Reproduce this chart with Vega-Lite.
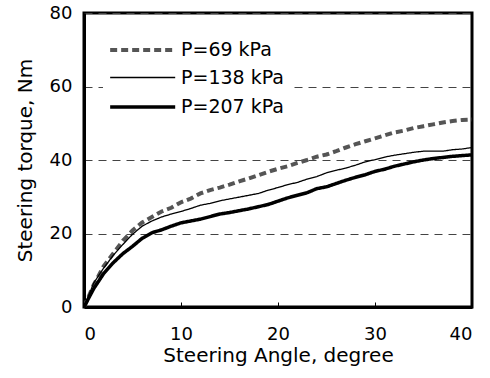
{
  "$schema": "https://vega.github.io/schema/vega-lite/v6.json",
  "width": 388,
  "height": 294,
  "autosize": {"type": "none"},
  "padding": {"left": 84, "top": 13, "right": 18, "bottom": 71},
  "background": "white",
  "config": {
    "view": {"stroke": "black", "strokeWidth": 3},
    "font": "DejaVu Sans"
  },
  "data": {"values": [
    {"a":0,"t":0,"P":"P=69 kPa"},{"a":1,"t":6,"P":"P=69 kPa"},{"a":2,"t":11,"P":"P=69 kPa"},{"a":3,"t":14.5,"P":"P=69 kPa"},{"a":4,"t":18,"P":"P=69 kPa"},{"a":5,"t":20.8,"P":"P=69 kPa"},{"a":6,"t":23,"P":"P=69 kPa"},{"a":7,"t":24.5,"P":"P=69 kPa"},{"a":8,"t":26,"P":"P=69 kPa"},{"a":9,"t":27,"P":"P=69 kPa"},{"a":10,"t":28.5,"P":"P=69 kPa"},{"a":11,"t":29.5,"P":"P=69 kPa"},{"a":12,"t":30.9,"P":"P=69 kPa"},{"a":13,"t":31.8,"P":"P=69 kPa"},{"a":14,"t":32.5,"P":"P=69 kPa"},{"a":15,"t":33.3,"P":"P=69 kPa"},{"a":16,"t":34.2,"P":"P=69 kPa"},{"a":17,"t":35,"P":"P=69 kPa"},{"a":18,"t":35.9,"P":"P=69 kPa"},{"a":19,"t":36.8,"P":"P=69 kPa"},{"a":20,"t":37.6,"P":"P=69 kPa"},{"a":21,"t":38.3,"P":"P=69 kPa"},{"a":22,"t":39.2,"P":"P=69 kPa"},{"a":23,"t":40,"P":"P=69 kPa"},{"a":24,"t":40.9,"P":"P=69 kPa"},{"a":25,"t":41.5,"P":"P=69 kPa"},{"a":26,"t":42.4,"P":"P=69 kPa"},{"a":27,"t":43.4,"P":"P=69 kPa"},{"a":28,"t":44.3,"P":"P=69 kPa"},{"a":29,"t":45.1,"P":"P=69 kPa"},{"a":30,"t":45.9,"P":"P=69 kPa"},{"a":31,"t":46.7,"P":"P=69 kPa"},{"a":32,"t":47.5,"P":"P=69 kPa"},{"a":33,"t":48,"P":"P=69 kPa"},{"a":34,"t":48.7,"P":"P=69 kPa"},{"a":35,"t":49.2,"P":"P=69 kPa"},{"a":36,"t":49.7,"P":"P=69 kPa"},{"a":37,"t":50.2,"P":"P=69 kPa"},{"a":38,"t":50.6,"P":"P=69 kPa"},{"a":39,"t":50.9,"P":"P=69 kPa"},{"a":40,"t":51,"P":"P=69 kPa"},
    {"a":0,"t":0,"P":"P=138 kPa"},{"a":1,"t":6.5,"P":"P=138 kPa"},{"a":2,"t":10.5,"P":"P=138 kPa"},{"a":3,"t":14,"P":"P=138 kPa"},{"a":4,"t":17,"P":"P=138 kPa"},{"a":5,"t":19.8,"P":"P=138 kPa"},{"a":6,"t":22,"P":"P=138 kPa"},{"a":7,"t":23.4,"P":"P=138 kPa"},{"a":8,"t":24.5,"P":"P=138 kPa"},{"a":9,"t":25.3,"P":"P=138 kPa"},{"a":10,"t":26,"P":"P=138 kPa"},{"a":11,"t":26.8,"P":"P=138 kPa"},{"a":12,"t":27.7,"P":"P=138 kPa"},{"a":13,"t":28.2,"P":"P=138 kPa"},{"a":14,"t":28.9,"P":"P=138 kPa"},{"a":15,"t":29.4,"P":"P=138 kPa"},{"a":16,"t":29.9,"P":"P=138 kPa"},{"a":17,"t":30.4,"P":"P=138 kPa"},{"a":18,"t":30.9,"P":"P=138 kPa"},{"a":19,"t":31.8,"P":"P=138 kPa"},{"a":20,"t":32.5,"P":"P=138 kPa"},{"a":21,"t":33.3,"P":"P=138 kPa"},{"a":22,"t":33.9,"P":"P=138 kPa"},{"a":23,"t":34.8,"P":"P=138 kPa"},{"a":24,"t":35.5,"P":"P=138 kPa"},{"a":25,"t":36.5,"P":"P=138 kPa"},{"a":26,"t":37.2,"P":"P=138 kPa"},{"a":27,"t":37.8,"P":"P=138 kPa"},{"a":28,"t":38.6,"P":"P=138 kPa"},{"a":29,"t":39.5,"P":"P=138 kPa"},{"a":30,"t":40.1,"P":"P=138 kPa"},{"a":31,"t":40.8,"P":"P=138 kPa"},{"a":32,"t":41.3,"P":"P=138 kPa"},{"a":33,"t":41.7,"P":"P=138 kPa"},{"a":34,"t":42.1,"P":"P=138 kPa"},{"a":35,"t":42.4,"P":"P=138 kPa"},{"a":36,"t":42.4,"P":"P=138 kPa"},{"a":37,"t":42.4,"P":"P=138 kPa"},{"a":38,"t":42.8,"P":"P=138 kPa"},{"a":39,"t":43,"P":"P=138 kPa"},{"a":40,"t":43.4,"P":"P=138 kPa"},
    {"a":0,"t":0,"P":"P=207 kPa"},{"a":1,"t":5,"P":"P=207 kPa"},{"a":2,"t":9,"P":"P=207 kPa"},{"a":3,"t":12,"P":"P=207 kPa"},{"a":4,"t":14.5,"P":"P=207 kPa"},{"a":5,"t":16.5,"P":"P=207 kPa"},{"a":6,"t":18.7,"P":"P=207 kPa"},{"a":7,"t":20.2,"P":"P=207 kPa"},{"a":8,"t":21,"P":"P=207 kPa"},{"a":9,"t":22,"P":"P=207 kPa"},{"a":10,"t":22.9,"P":"P=207 kPa"},{"a":11,"t":23.4,"P":"P=207 kPa"},{"a":12,"t":23.9,"P":"P=207 kPa"},{"a":13,"t":24.6,"P":"P=207 kPa"},{"a":14,"t":25.3,"P":"P=207 kPa"},{"a":15,"t":25.7,"P":"P=207 kPa"},{"a":16,"t":26.2,"P":"P=207 kPa"},{"a":17,"t":26.7,"P":"P=207 kPa"},{"a":18,"t":27.3,"P":"P=207 kPa"},{"a":19,"t":27.9,"P":"P=207 kPa"},{"a":20,"t":28.8,"P":"P=207 kPa"},{"a":21,"t":29.7,"P":"P=207 kPa"},{"a":22,"t":30.4,"P":"P=207 kPa"},{"a":23,"t":31.1,"P":"P=207 kPa"},{"a":24,"t":32.2,"P":"P=207 kPa"},{"a":25,"t":32.7,"P":"P=207 kPa"},{"a":26,"t":33.6,"P":"P=207 kPa"},{"a":27,"t":34.5,"P":"P=207 kPa"},{"a":28,"t":35.3,"P":"P=207 kPa"},{"a":29,"t":36,"P":"P=207 kPa"},{"a":30,"t":36.9,"P":"P=207 kPa"},{"a":31,"t":37.5,"P":"P=207 kPa"},{"a":32,"t":38.3,"P":"P=207 kPa"},{"a":33,"t":38.9,"P":"P=207 kPa"},{"a":34,"t":39.5,"P":"P=207 kPa"},{"a":35,"t":40,"P":"P=207 kPa"},{"a":36,"t":40.4,"P":"P=207 kPa"},{"a":37,"t":40.7,"P":"P=207 kPa"},{"a":38,"t":41,"P":"P=207 kPa"},{"a":39,"t":41.2,"P":"P=207 kPa"},{"a":40,"t":41.4,"P":"P=207 kPa"}
  ]},
  "mark": {"type": "line", "clip": true},
  "encoding": {
    "x": {
      "field": "a", "type": "quantitative",
      "scale": {"domain": [0, 40], "nice": false},
      "axis": {
        "title": "Steering Angle, degree",
        "values": [0, 10, 20, 30, 40],
        "grid": false,
        "domainColor": "black", "domainWidth": 3,
        "tickColor": "black", "tickSize": -5, "tickWidth": 1,
        "labelFont": "DejaVu Sans", "labelFontSize": 18, "labelColor": "black", "labelPadding": 23,
        "titleFont": "DejaVu Sans", "titleFontSize": 20, "titleFontWeight": "normal", "titleColor": "black", "titlePadding": 2
      }
    },
    "y": {
      "field": "t", "type": "quantitative",
      "scale": {"domain": [0, 80], "nice": false},
      "axis": {
        "title": "Steering torque, Nm",
        "values": [0, 20, 40, 60, 80],
        "grid": true,
        "gridColor": "#444", "gridDash": [8, 6], "gridWidth": 1,
        "ticks": false,
        "domainColor": "black", "domainWidth": 3,
        "labelFont": "DejaVu Sans", "labelFontSize": 18, "labelColor": "black", "labelPadding": 12,
        "titleFont": "DejaVu Sans", "titleFontSize": 20, "titleFontWeight": "normal", "titleColor": "black", "titlePadding": 14
      }
    },
    "color": {
      "field": "P", "type": "nominal",
      "scale": {"type": "ordinal", "domain": ["P=69 kPa", "P=138 kPa", "P=207 kPa"], "range": ["#555555", "#000000", "#000000"]},
      "legend": {
        "title": null, "orient": "none", "legendX": 19, "legendY": 19,
        "fillColor": "white", "padding": 5,
        "symbolType": "M-1,0H5", "symbolSize": 470, "labelOffset": 47,
        "labelFont": "DejaVu Sans", "labelFontSize": 19, "labelColor": "black",
        "rowPadding": 6
      }
    },
    "strokeWidth": {
      "field": "P", "type": "nominal",
      "scale": {"type": "ordinal", "domain": ["P=69 kPa", "P=138 kPa", "P=207 kPa"], "range": [4, 1.3, 3.5]},
      "legend": null
    },
    "strokeDash": {
      "field": "P", "type": "nominal",
      "scale": {"type": "ordinal", "domain": ["P=69 kPa", "P=138 kPa", "P=207 kPa"], "range": [[7, 4], [1, 0], [1, 0]]},
      "legend": null
    }
  }
}
